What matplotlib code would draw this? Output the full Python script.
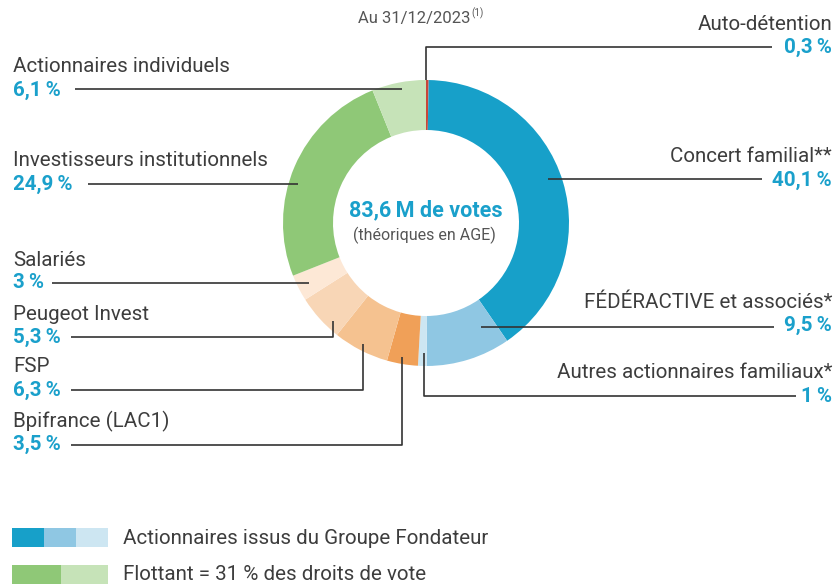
import matplotlib.pyplot as plt
from matplotlib.patches import Rectangle

plt.rcParams['font.family'] = ['Roboto', 'DejaVu Sans']

# repartition des droits de vote, sens horaire depuis le haut
names = ['Auto-détention', 'Concert familial**', 'FÉDÉRACTIVE et associés*',
         'Autres actionnaires familiaux*', 'Bpifrance (LAC1)', 'FSP',
         'Peugeot Invest', 'Salariés', 'Investisseurs institutionnels',
         'Actionnaires individuels']
values = [0.3, 40.1, 9.5, 1.0, 3.5, 6.3, 5.3, 3.0, 24.9, 6.1]
value_labels = ['0,3\u2009%', '40,1\u2009%', '9,5\u2009%', '1\u2009%', '3,5\u2009%',
                '6,3\u2009%', '5,3\u2009%', '3\u2009%', '24,9\u2009%', '6,1\u2009%']
colors = ['#c9463a', '#17a0c9', '#8fc7e3', '#cde6f2', '#f0a058', '#f5c290',
          '#f8d6b6', '#fde8d6', '#8fc877', '#c6e3b8']

legend_labels = ['Actionnaires issus du Groupe Fondateur',
                 'Flottant = 31 % des droits de vote']

BLUE = '#1aa0cb'
TXT = '#3d3d3d'
LINE = '#333333'
H = 586
FS = 14.8

fig = plt.figure(figsize=(8.38, 5.86), dpi=100)
ax = fig.add_axes([0, 0, 1, 1])

cx, cy = 426, 223
ax.pie(values, colors=colors, startangle=90, counterclock=False,
       radius=143, center=(cx, H - cy),
       wedgeprops=dict(width=50, edgecolor='none'))

ax.set_xlim(0, 838)
ax.set_ylim(0, H)
ax.set_aspect('equal')
ax.axis('off')


def Y(y):
    return H - y


# label layout: side, text y, leader line path (pixel coords)
layout = {
    'Auto-détention': ('r', 24, [(426, 80), (426, 47), (772, 47)]),
    'Concert familial**': ('r', 157, [(548, 179), (762, 179)]),
    'FÉDÉRACTIVE et associés*': ('r', 302, [(481, 327), (774, 327)]),
    'Autres actionnaires familiaux*': ('r', 373, [(424, 353), (424, 396), (796, 396)]),
    'Actionnaires individuels': ('l', 67, [(402, 89), (75, 89)]),
    'Investisseurs institutionnels': ('l', 161, [(298, 184), (88, 184)]),
    'Salariés': ('l', 260, [(309, 283), (52, 283)]),
    'Peugeot Invest': ('l', 314, [(333, 321), (333, 337), (71, 337)]),
    'FSP': ('l', 367, [(363, 344), (363, 390), (71, 390)]),
    'Bpifrance (LAC1)': ('l', 421, [(402, 357), (402, 445), (71, 445)]),
}

for name, vl in zip(names, value_labels):
    side, ty, path = layout[name]
    if side == 'r':
        x, ha = 832, 'right'
    else:
        x, ha = 13, 'left'
    ax.text(x, Y(ty), name, ha=ha, va='center', fontsize=FS, color=TXT)
    ax.text(x, Y(ty + 23), vl, ha=ha, va='center', fontsize=FS,
            color=BLUE, fontweight='bold')
    xs = [p[0] for p in path]
    ys = [Y(p[1]) for p in path]
    ax.plot(xs, ys, color=LINE, lw=1.2, solid_capstyle='butt')

# centre
ax.text(cx, Y(210), '83,6\u2009M de votes', ha='center', va='center',
        fontsize=15.5, fontweight='bold', color=BLUE)
ax.text(cx - 2, Y(235), '(théoriques en AGE)', ha='center', va='center',
        fontsize=11.5, color='#555555')

# date
ax.text(470, Y(19), 'Au 31/12/2023', ha='right', va='center',
        fontsize=12, color='#555555')
ax.text(471, Y(13), '(1)', ha='left', va='center',
        fontsize=7, color='#555555')

# legende
blues = colors[1:4]
greens = [colors[8], colors[9]]
for i, c in enumerate(blues):
    ax.add_patch(Rectangle((12 + i * 32, Y(547)), 32, 19, color=c, lw=0))
ax.add_patch(Rectangle((12, Y(584)), 49, 19, color=greens[0], lw=0))
ax.add_patch(Rectangle((61, Y(584)), 47, 19, color=greens[1], lw=0))
ax.text(123, Y(538), legend_labels[0], ha='left', va='center',
        fontsize=FS, color=TXT)
ax.text(123, Y(575), legend_labels[1], ha='left', va='center',
        fontsize=FS, color=TXT)

fig.savefig('out.png', dpi=100)
